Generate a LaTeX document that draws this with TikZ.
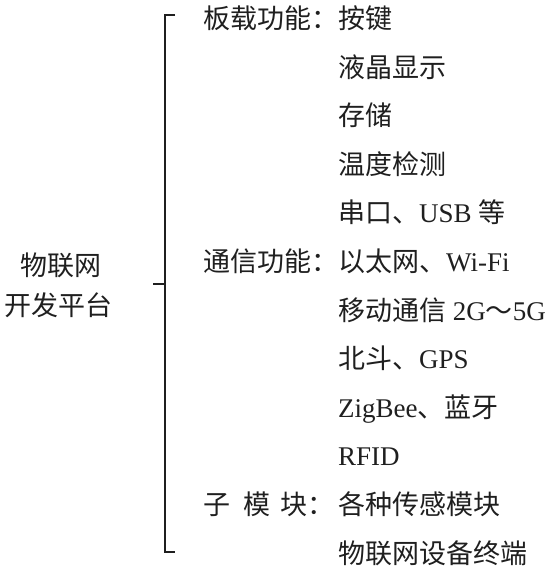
\documentclass[tikz,border=0pt]{standalone}
\usepackage{fontspec}
\setmainfont{Liberation Serif}
\newfontfamily\cjk{Noto Sans CJK SC}
\begin{document}
\begin{tikzpicture}[x=1pt,y=-1pt,
  txt/.style={anchor=base west,inner sep=0pt,font=\fontsize{27}{30}\selectfont,text=black!88},
  bracefig/.style={draw=black!88,line width=2pt}]
\useasboundingbox (0,0) rectangle (551,571);
% left title
\node[txt,anchor=base] (t1) at (61,275) {\cjk 物联网};
\node[txt,anchor=base] (t2) at (59,315) {\cjk 开发平台};
% brace
\coordinate (bt) at (175,15);
\coordinate (bb) at (175,552);
\coordinate (bm) at (165,284);
\coordinate (bl) at (153,284);
\draw[bracefig] (bt) -- (165,15) -- (165,552) -- (bb);
\draw[bracefig] (bl) -- (bm);
% labels
\node[txt] (l1) at (203,28) {\cjk 板载功能：};
\node[txt] (l2) at (203,271) {\cjk 通信功能：};
\node[txt] (l3a) at (203,514) {\cjk 子};
\node[txt] (l3b) at (243,514) {\cjk 模};
\node[txt] (l3c) at (280,514) {\cjk 块：};
% items
\node[txt] (i1) at (338,28) {\cjk 按键};
\node[txt] (i2) at (338,77) {\cjk 液晶显示};
\node[txt] (i3) at (338,125) {\cjk 存储};
\node[txt] (i4) at (338,174) {\cjk 温度检测};
\node[txt] (i5) at (338,222) {{\cjk 串口、}USB {\cjk 等}};
\node[txt] (i6) at (338,271) {{\cjk 以太网、}Wi-Fi};
\node[txt] (i7) at (338,320) {{\cjk 移动通信} 2G{\cjk ～}5G};
\node[txt] (i8) at (338,368) {{\cjk 北斗、}GPS};
\node[txt] (i9) at (338,417) {ZigBee{\cjk 、蓝牙}};
\node[txt] (i10) at (338,465) {RFID};
\node[txt] (i11) at (338,514) {\cjk 各种传感模块};
\node[txt] (i12) at (338,563) {\cjk 物联网设备终端};
\end{tikzpicture}
\end{document}
